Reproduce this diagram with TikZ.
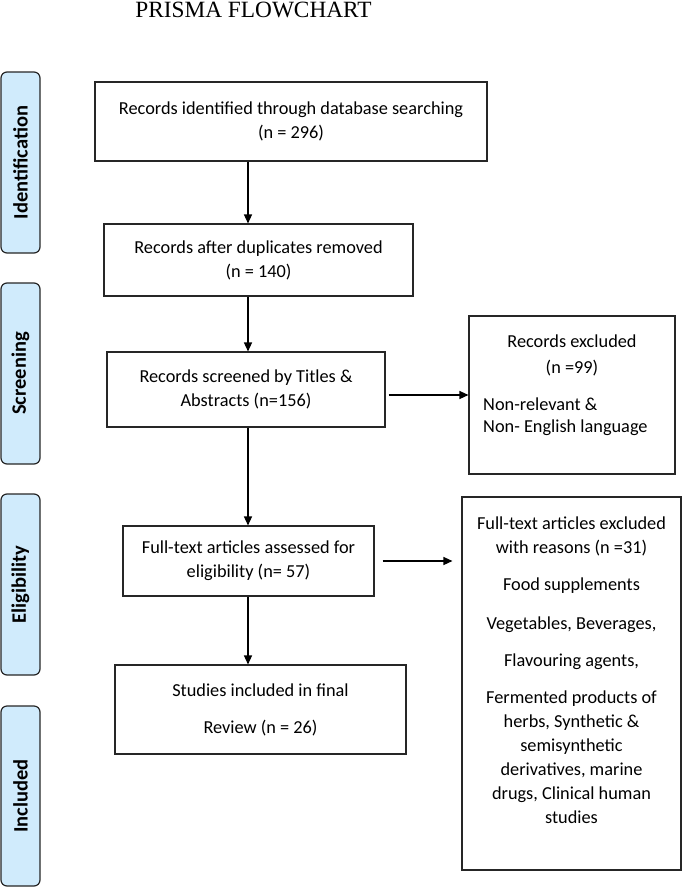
\documentclass[tikz,border=0pt]{standalone}
\usepackage{fontspec}
\newfontfamily\boxfont{Carlito}
\newfontfamily\titlefont{Liberation Serif}
\usetikzlibrary{arrows.meta,calc}
\definecolor{barblue}{HTML}{D0EBFC}
\definecolor{edge}{HTML}{262626}
\begin{document}
\begin{tikzpicture}[x=1pt,y=-1pt,
  box/.style={draw=edge, line width=1.1pt, inner sep=0pt, align=center,
    font=\boxfont\fontsize{18.3}{24}\selectfont},
  phase/.style={draw=edge, line width=1.2pt, fill=barblue, rounded corners=6pt,
    rotate=90, minimum height=39pt, inner sep=0pt,
    font=\boxfont\bfseries\fontsize{20.5}{24}\selectfont},
  arr/.style={draw=black, line width=1.3pt, -{Triangle[length=9pt,width=8pt]}},
  txt/.style={inner sep=0pt, font=\boxfont\fontsize{18.3}{24}\selectfont}
]
\useasboundingbox (0,0) rectangle (685,887);
\node[anchor=base, inner sep=0pt, font=\titlefont\fontsize{23.3}{27}\selectfont] (title) at (253.5,17) {PRISMA FLOWCHART};

\node[phase, minimum width=181pt] (pid) at (20.5,162.5) {Identification};
\node[phase, minimum width=181pt] (pscr) at (20.5,373.5) {Screening};
\node[phase, minimum width=181pt] (pelg) at (20.5,584.5) {Eligibility};
\node[phase, minimum width=180pt] (pinc) at (20.5,796) {Included};

\node[box, minimum width=392pt, minimum height=79pt] (ident) at (291,121.5) {Records identified through database searching\\(n = 296)};
\node[box, minimum width=309pt, minimum height=72pt] (dup) at (258.5,260) {Records after duplicates removed\\(n = 140)};
\node[box, minimum width=278pt, minimum height=75pt] (screen) at (246,389.5) {Records screened by Titles \&\\Abstracts (n=156)};
\node[box, minimum width=206pt, minimum height=158pt] (excl1) at (572,395) {};
\node[txt, align=center, anchor=north] (excl1a) at (572,335) {Records excluded\\[2pt](n =99)};
\node[txt, align=left, anchor=north west] (excl1b) at (483,397.5) {Non-relevant \&\\[-2pt]Non- English language};
\node[box, minimum width=251pt, minimum height=70pt] (elig) at (248.5,561) {Full-text articles assessed for\\eligibility (n= 57)};
\node[box, minimum width=219pt, minimum height=373pt] (excl2) at (571.5,683.5) {};
\node[txt, align=center, anchor=north] (excl2t) at (571.5,516.5) {Full-text articles excluded\\with reasons (n =31)\\[13pt]Food supplements\\[15pt]Vegetables, Beverages,\\[13pt]Flavouring agents,\\[13pt]Fermented products of\\herbs, Synthetic \&\\semisynthetic\\derivatives, marine\\drugs, Clinical human\\studies};
\node[box, minimum width=291pt, minimum height=89pt] (incl) at (260.5,709.5) {Studies included in final\\[13pt]Review (n = 26)};

\coordinate (spine) at (248,0);
\draw[arr] (ident.south -| spine) -- (dup.north -| spine);
\draw[arr] (dup.south -| spine) -- (screen.north -| spine);
\draw[arr] (screen.south -| spine) -- (elig.north -| spine);
\draw[arr] (elig.south -| spine) -- (incl.north -| spine);
\draw[arr] ($(screen.east |- excl1.west)+(3,0)$) -- (excl1.west);
\draw[arr] ($(elig.east)+(8,0)$) -- ($(elig.east -| excl2.west)+(-9,0)$);
\end{tikzpicture}
\end{document}
